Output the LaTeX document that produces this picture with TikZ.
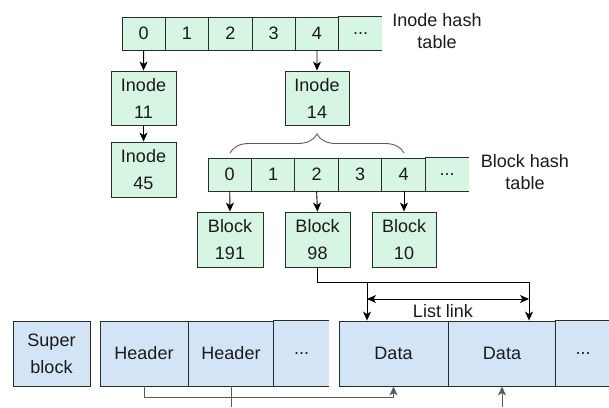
\documentclass[tikz,border=0pt]{standalone}
\usepackage{fontspec}
\setmainfont{Liberation Sans}
\usetikzlibrary{arrows.meta,decorations.pathreplacing,calc}
\definecolor{gfill}{HTML}{D6F5E3}
\definecolor{bfill}{HTML}{D4E4F7}
\definecolor{edge}{HTML}{2B2B2B}
\definecolor{txt}{HTML}{1A1A1A}
\definecolor{gline}{HTML}{5A5A5A}
\begin{document}
\begin{tikzpicture}[x=1pt,y=-1pt,
  every node/.style={font=\fontsize{18}{27}\selectfont, text=txt, inner sep=0pt, align=center},
  gcell/.style={draw=edge, fill=gfill, line width=0.9pt, minimum height=33pt, minimum width=43.4pt},
  gopen/.style={fill=gfill, minimum height=33pt, minimum width=43.4pt},
  gbox/.style={draw=edge, fill=gfill, line width=0.9pt},
  bbox/.style={draw=edge, fill=bfill, line width=0.9pt, minimum height=65pt},
  bopen/.style={fill=bfill, minimum height=65pt},
  openedge/.style={draw=edge, line width=0.9pt},
  arr/.style={draw=black, line width=0.9pt, -{Stealth[length=9pt,width=8pt,inset=2.5pt]}},
  darr/.style={draw=black, line width=0.9pt, {Stealth[length=9pt,width=8pt,inset=2.5pt]}-{Stealth[length=9pt,width=8pt,inset=2.5pt]}},
  gconn/.style={draw=gline, line width=0.9pt},
  garr/.style={draw=gline, line width=0.9pt, -{Stealth[length=9pt,width=8pt,inset=2.5pt]}},
  lbl/.style={font=\fontsize{18}{22}\selectfont}
]
\useasboundingbox (0,0) rectangle (609,407);

% Inode hash table
\foreach \i in {0,...,4}{
  \node[gcell] (it\i) at ({122+43.33*\i+21.67},33.5) {\i};
}
\node[gopen] (it5) at (360.5,33.5) {...};
\draw[openedge] (it5.north east) -- (it5.north west) -- (it5.south west) -- (it5.south east);
\node[lbl] (ihl) at (437,31) {Inode hash\\table};

% Inodes
\node[gbox, minimum width=65pt, minimum height=54pt] (in11) at (143.5,98) {Inode\\11};
\node[gbox, minimum width=64pt, minimum height=54pt] (in14) at (317,98) {Inode\\14};
\node[gbox, minimum width=65pt, minimum height=55pt] (in45) at (143.5,169.5) {Inode\\45};
\draw[arr] (it0.south) -- (in11.north);
\draw[arr] (it4.south) -- (in14.north);
\draw[arr] (in11.south) -- (in45.north);

% Brace
\coordinate (brl) at (230,153);
\coordinate (brr) at (404,153);
\draw[gline, line width=0.9pt, decorate, decoration={brace, amplitude=19pt}] (brl) -- (brr);

% Block hash table
\foreach \i in {0,...,4}{
  \node[gcell] (bt\i) at ({208+43.45*\i+21.72},174.5) {\i};
}
\node[gopen] (bt5) at (447,174.5) {...};
\draw[openedge] (bt5.north east) -- (bt5.north west) -- (bt5.south west) -- (bt5.south east);
\node[lbl] (bhl) at (525,172.5) {Block hash\\table};

% Blocks
\node[gbox, minimum width=66pt, minimum height=55pt] (b191) at (230,239.5) {Block\\191};
\node[gbox, minimum width=65pt, minimum height=55pt] (b98) at (317.5,239.5) {Block\\98};
\node[gbox, minimum width=64pt, minimum height=55pt] (b10) at (404,239.5) {Block\\10};
\draw[arr] (bt0.south) -- (b191.north);
\draw[arr] (bt2.south) -- (b98.north);
\draw[arr] (bt4.south -| b10.north) -- (b10.north);

% Bottom row
\node[bbox, minimum width=77pt] (sb) at (51.5,353.5) {Super\\block};
\node[bbox, minimum width=88pt] (h1) at (144,353.5) {Header};
\node[bbox, minimum width=86pt] (h2) at (231,353.5) {Header};
\node[bopen, minimum width=55pt] (hd) at (301.5,353.5) {...};
\draw[openedge] (hd.north east) -- (hd.north west) -- (hd.south west) -- (hd.south east);
\node[bbox, minimum width=109pt] (d1) at (393.5,353.5) {Data};
\node[bbox, minimum width=108pt] (d2) at (502,353.5) {Data};
\node[bopen, minimum width=54pt] (dd) at (583,353.5) {...};
\draw[openedge] (dd.north east) -- (dd.north west) -- (dd.south west) -- (dd.south east);

% Block 98 to data
\coordinate (j1) at (367,282);
\coordinate (j2) at (529,282);
\draw[arr] (b98.south) |- (j2) -- (j2 |- d2.north);
\draw[arr] (j1) -- (j1 |- d1.north);
\coordinate (ll1) at (367,299);
\coordinate (ll2) at (529,299);
\draw[darr] (ll1) -- (ll2);
\node (llt) at (443,311) {List link};

% Header connectors
\draw[garr] (h1.south) -- ++(0,11) -| (d1.south);
\coordinate (hb) at (231,407);
\draw[gconn] (h2.south) -- (hb);
\coordinate (db) at (502,407);
\draw[garr] (db) -- (d2.south);
\end{tikzpicture}
\end{document}
